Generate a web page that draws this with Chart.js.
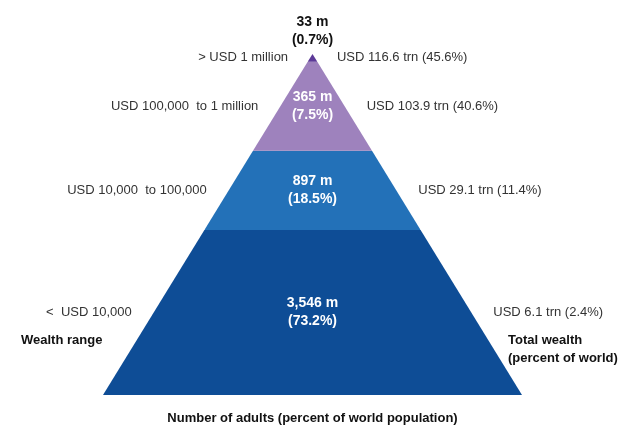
<!DOCTYPE html>
<html>
<head>
<meta charset="utf-8">
<script src="https://cdn.jsdelivr.net/npm/chart.js@4"></script>
<style>
  html, body { margin: 0; padding: 0; background: #fff; }
  #wrap { width: 640px; height: 445px; }
</style>
</head>
<body>
<div id="wrap"><canvas id="myChart"></canvas></div>
<script>
// top of pyramid first
const wealthRanges = ['> USD 1 million', 'USD 100,000  to 1 million', 'USD 10,000  to 100,000', '<  USD 10,000'];
const adults = ['33 m', '365 m', '897 m', '3,546 m'];
const adultShares = ['(0.7%)', '(7.5%)', '(18.5%)', '(73.2%)'];
const totalWealth = ['USD 116.6 trn (45.6%)', 'USD 103.9 trn (40.6%)', 'USD 29.1 trn (11.4%)', 'USD 6.1 trn (2.4%)'];
// height of each layer, percent of the pyramid height
const layerHeights = [2.3, 26.1, 23.2, 48.4];
const layerColors = ['#5d3a98', '#9e82bd', '#2371b8', '#0e4d96'];

// bottom and top of every layer (0 = base, 100 = apex)
const layers = [];
let lvl = 0;
for (let i = layerHeights.length - 1; i >= 0; i--) {
  layers[i] = { lo: lvl, hi: lvl + layerHeights[i] };
  lvl += layerHeights[i];
}

function layerPoints(l) {
  const wLo = 100 - l.lo, wHi = 100 - l.hi;
  if (wHi < 0.01) return [{x: -wLo, y: l.lo}, {x: 0, y: l.hi}, {x: wLo, y: l.lo}];
  return [{x: -wLo, y: l.lo}, {x: -wHi, y: l.hi}, {x: wHi, y: l.hi}, {x: wLo, y: l.lo}];
}

const labelPlugin = {
  id: 'pyramidLabels',
  afterDatasetsDraw(chart) {
    const ctx = chart.ctx;
    const xs = chart.scales.x, ys = chart.scales.y;
    ctx.save();
    ctx.textBaseline = 'middle';
    layers.forEach((l, i) => {
      const mid = (l.lo + l.hi) / 2;
      const y = ys.getPixelForValue(mid);
      const half = 100 - mid;
      // side labels
      ctx.font = '13px "Liberation Sans", Arial, sans-serif';
      ctx.fillStyle = '#333';
      ctx.textAlign = 'right';
      ctx.fillText(wealthRanges[i], xs.getPixelForValue(-half) - 22, y);
      ctx.textAlign = 'left';
      ctx.fillText(totalWealth[i], xs.getPixelForValue(half) + 22, y);
      // adults
      ctx.textAlign = 'center';
      ctx.font = 'bold 14px "Liberation Sans", Arial, sans-serif';
      if (i === 0) {
        ctx.fillStyle = '#111';
        const top = ys.getPixelForValue(l.hi);
        ctx.fillText(adults[i], xs.getPixelForValue(0), top - 32);
        ctx.fillText(adultShares[i], xs.getPixelForValue(0), top - 14);
      } else {
        ctx.fillStyle = '#fff';
        ctx.fillText(adults[i], xs.getPixelForValue(0), y - 9);
        ctx.fillText(adultShares[i], xs.getPixelForValue(0), y + 9);
      }
    });
    ctx.fillStyle = '#111';
    ctx.font = 'bold 13px "Liberation Sans", Arial, sans-serif';
    ctx.textAlign = 'left';
    ctx.fillText('Wealth range', 21, 340);
    ctx.fillText('Total wealth', 508, 340);
    ctx.fillText('(percent of world)', 508, 358);
    ctx.textAlign = 'center';
    ctx.fillText('Number of adults (percent of world population)', xs.getPixelForValue(0), 418);
    ctx.restore();
  }
};

new Chart(document.getElementById('myChart'), {
  type: 'line',
  data: {
    datasets: layers.map((l, i) => ({
      label: wealthRanges[i],
      data: layerPoints(l),
      fill: { value: l.lo },
      backgroundColor: layerColors[i],
      borderColor: layerColors[i],
      borderWidth: 0,
      pointRadius: 0,
      tension: 0,
      clip: false
    }))
  },
  options: {
    responsive: true,
    maintainAspectRatio: false,
    animation: false,
    layout: { padding: { left: 103, right: 118, top: 54, bottom: 50 } },
    plugins: { legend: { display: false }, tooltip: { enabled: false } },
    scales: {
      x: { type: 'linear', min: -100, max: 100, display: false },
      y: { min: 0, max: 100, display: false }
    }
  },
  plugins: [labelPlugin]
});
</script>
</body>
</html>
